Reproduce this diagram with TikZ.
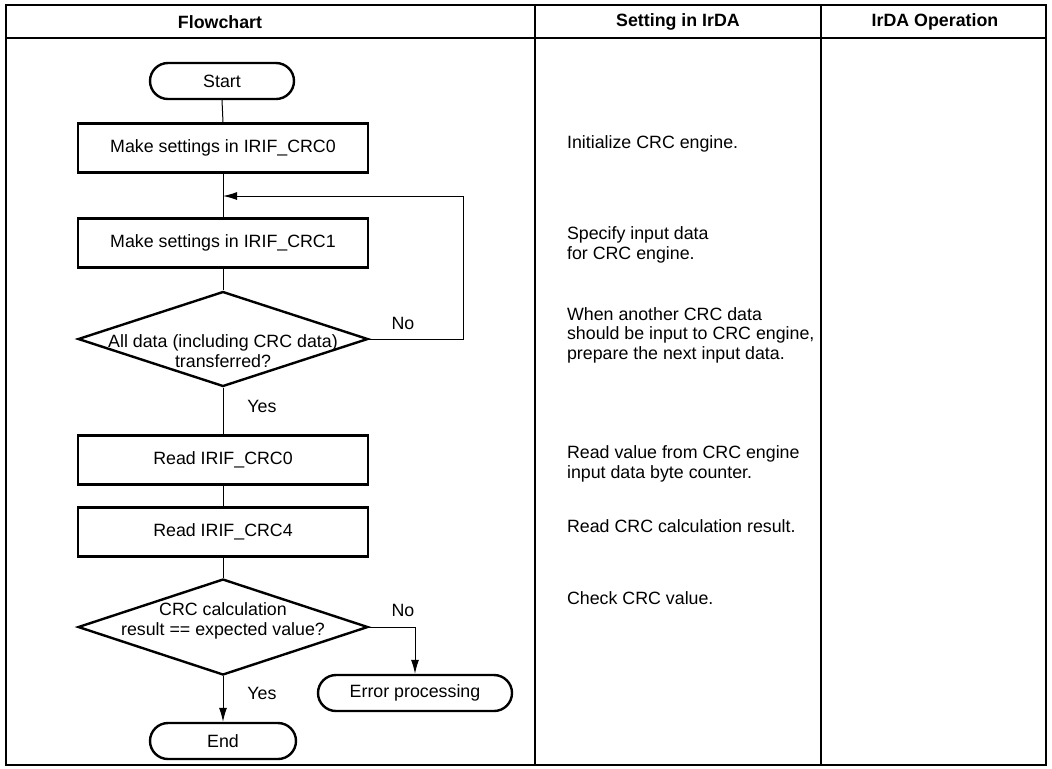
\documentclass[tikz,border=0pt]{standalone}
\usepackage{fontspec}
\setmainfont{Liberation Sans}
\usetikzlibrary{arrows.meta,shapes.geometric}

\begin{document}
\begin{tikzpicture}[x=0.5pt,y=-0.5pt, font=\fontsize{8.9}{9.8}\selectfont,
    box/.style={draw, line width=1.2pt, minimum width=145pt, minimum height=24.5pt, inner sep=0pt},
    term/.style={draw, line width=1.2pt, rounded corners=9pt, minimum height=18pt, inner sep=0pt},
    decision/.style={draw, diamond, line width=1.2pt, minimum width=145pt, minimum height=47.5pt, inner sep=0pt},
    note/.style={anchor=west, align=left},
    conn/.style={line width=0.5pt, >={Latex[length=7pt,width=4pt]}}]
    \useasboundingbox (0,0) rectangle (1052,768);

    % table frame and column heads
    \draw[line width=0.8pt] (6,5) rectangle (1046,765);
    \draw[line width=0.8pt] (6,38) -- (1046,38);
    \draw[line width=0.8pt] (535,5) -- (535,765);
    \draw[line width=0.8pt] (821,5) -- (821,765);
    \node[font=\fontsize{8.9}{9.8}\selectfont\bfseries] (h1) at (220,22) {Flowchart};
    \node[font=\fontsize{8.9}{9.8}\selectfont\bfseries] (h2) at (678,22) {Setting in IrDA};
    \node[font=\fontsize{8.9}{9.8}\selectfont\bfseries] (h3) at (935,22) {IrDA Operation};

    % flowchart
    \node[term, minimum width=72pt] (start) at (222,81) {Start};
    \node[box] (b1) at (223,148) {Make settings in IRIF\_CRC0};
    \node[box] (b2) at (223,243) {Make settings in IRIF\_CRC1};
    \node[decision, minimum height=47.5pt] (d1) at (223,339) {};
    \node[align=center] (d1t) at (223,351) {All data (including CRC data)\\transferred?};
    \node[box] (b3) at (223,460) {Read IRIF\_CRC0};
    \node[box] (b4) at (223,532) {Read IRIF\_CRC4};
    \node[decision, minimum height=48pt] (d2) at (223,627) {};
    \node[align=center] (d2t) at (223,621) {CRC calculation\\result == expected value?};
    \node[term, minimum width=97pt] (err) at (415,693) {Error processing};
    \node[term, minimum width=73pt] (end) at (223,741) {End};

    \coordinate (back) at (223,196);
    \coordinate (turn) at (463,196);

    \draw[conn] (start.south) -- (b1.north);
    \draw[conn] (b1.south) -- (b2.north);
    \draw[conn] (b2.south) -- (d1.north);
    \draw[conn,->] (d1.east) -| (turn) -- (back);
    \draw[conn] (d1.south) -- (b3.north);
    \draw[conn] (b3.south) -- (b4.north);
    \draw[conn] (b4.south) -- (d2.north);
    \draw[conn,->] (d2.east) -| (err.north);
    \draw[conn,->] (d2.south) -- (end.north);

    \node (no1) at (403,323) {No};
    \node (yes1) at (262,406) {Yes};
    \node (no2) at (403,610) {No};
    \node (yes2) at (262,693) {Yes};

    % notes for the IrDA settings
    \node[note] (n1) at (560,144) {Initialize CRC engine.};
    \node[note] (n2) at (560,245) {Specify input data\\for CRC engine.};
    \node[note] (n3) at (560,335) {When another CRC data\\should be input to CRC engine,\\prepare the next input data.};
    \node[note] (n4) at (560,464) {Read value from CRC engine\\input data byte counter.};
    \node[note] (n5) at (560,526) {Read CRC calculation result.};
    \node[note] (n6) at (560,598) {Check CRC value.};
\end{tikzpicture}
\end{document}
